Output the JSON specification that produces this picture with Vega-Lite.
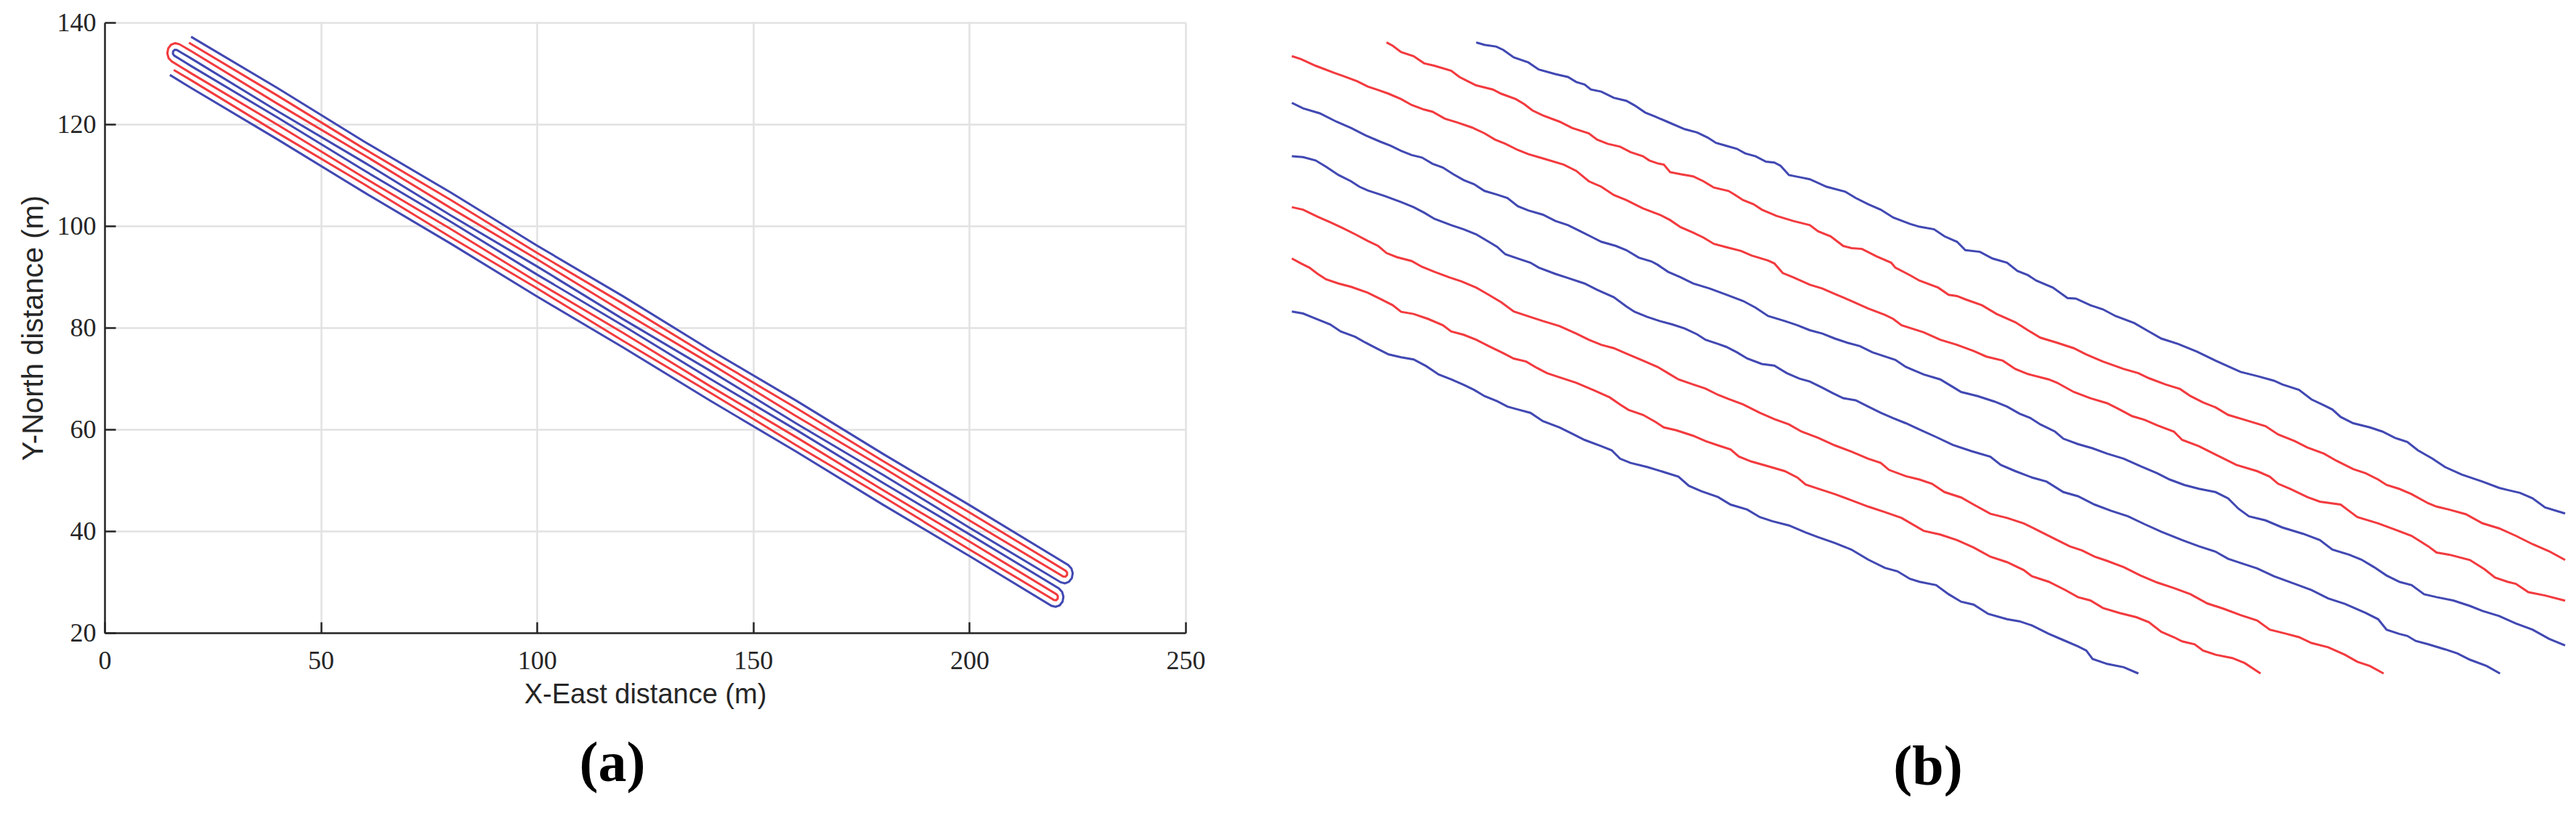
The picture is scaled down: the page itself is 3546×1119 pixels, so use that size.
{
"$schema": "https://vega.github.io/schema/vega-lite/v6.json",
"background": "white",
"padding": {"left": 26, "top": 13, "right": 20, "bottom": 0},
"spacing": 113,
"config": {"view": {"stroke": null}, "font": "Liberation Sans"},
"datasets": {
"paths": [
{"track":"L1","path":"Blue"},{"track":"L2","path":"Red"},{"track":"L3","path":"Red"},{"track":"L4","path":"Blue"},{"track":"L5","path":"Blue"},{"track":"L6","path":"Red"},{"track":"L7","path":"Red"},{"track":"L8","path":"Blue"}
],
"a": [
{"path":"Blue","o":1,"x":20,"y":137.2},{"path":"Blue","o":2,"x":40,"y":127.1},{"path":"Blue","o":3,"x":60,"y":116.6},{"path":"Blue","o":4,"x":80,"y":106.6},{"path":"Blue","o":5,"x":100,"y":96.15},{"path":"Blue","o":6,"x":120,"y":86.12},{"path":"Blue","o":7,"x":140,"y":75.65},{"path":"Blue","o":8,"x":160,"y":65.62},{"path":"Blue","o":9,"x":180,"y":55.2},{"path":"Blue","o":10,"x":200,"y":45.12},{"path":"Blue","o":11,"x":222.87,"y":33.33},{"path":"Blue","o":12,"x":223.6,"y":32.66},{"path":"Blue","o":13,"x":223.9,"y":31.73},{"path":"Blue","o":14,"x":223.7,"y":30.76},{"path":"Blue","o":15,"x":223.03,"y":30.03},{"path":"Blue","o":16,"x":222.1,"y":29.73},{"path":"Blue","o":17,"x":221.13,"y":29.94},{"path":"Blue","o":18,"x":200,"y":40.68},{"path":"Blue","o":19,"x":180,"y":51.08},{"path":"Blue","o":20,"x":160,"y":61.15},{"path":"Blue","o":21,"x":140,"y":71.55},{"path":"Blue","o":22,"x":120,"y":81.62},{"path":"Blue","o":23,"x":100,"y":92.05},{"path":"Blue","o":24,"x":80,"y":102.1},{"path":"Blue","o":25,"x":60,"y":112.52},{"path":"Blue","o":26,"x":40,"y":122.58},{"path":"Blue","o":27,"x":20,"y":132.95},{"path":"Blue","o":28,"x":16.69,"y":134.61},{"path":"Blue","o":29,"x":16.21,"y":134.65},{"path":"Blue","o":30,"x":15.84,"y":134.33},{"path":"Blue","o":31,"x":15.8,"y":133.85},{"path":"Blue","o":32,"x":16.11,"y":133.48},{"path":"Blue","o":33,"x":20,"y":131.45},{"path":"Blue","o":34,"x":40,"y":121.32},{"path":"Blue","o":35,"x":60,"y":110.92},{"path":"Blue","o":36,"x":80,"y":100.85},{"path":"Blue","o":37,"x":100,"y":90.45},{"path":"Blue","o":38,"x":120,"y":80.36},{"path":"Blue","o":39,"x":140,"y":69.96},{"path":"Blue","o":40,"x":160,"y":59.88},{"path":"Blue","o":41,"x":180,"y":49.5},{"path":"Blue","o":42,"x":200,"y":39.38},{"path":"Blue","o":43,"x":220.72,"y":28.71},{"path":"Blue","o":44,"x":221.45,"y":28.04},{"path":"Blue","o":45,"x":221.75,"y":27.11},{"path":"Blue","o":46,"x":221.55,"y":26.14},{"path":"Blue","o":47,"x":220.88,"y":25.41},{"path":"Blue","o":48,"x":219.95,"y":25.11},{"path":"Blue","o":49,"x":218.98,"y":25.32},{"path":"Blue","o":50,"x":200,"y":35.1},{"path":"Blue","o":51,"x":180,"y":45.2},{"path":"Blue","o":52,"x":160,"y":55.6},{"path":"Blue","o":53,"x":140,"y":65.68},{"path":"Blue","o":54,"x":120,"y":76.08},{"path":"Blue","o":55,"x":100,"y":86.15},{"path":"Blue","o":56,"x":80,"y":96.55},{"path":"Blue","o":57,"x":60,"y":106.62},{"path":"Blue","o":58,"x":40,"y":117.02},{"path":"Blue","o":59,"x":20,"y":127.15},{"path":"Blue","o":60,"x":15.1,"y":129.7},
{"path":"Red","o":1,"x":19.5,"y":136.03},{"path":"Red","o":2,"x":40,"y":125.62},{"path":"Red","o":3,"x":60,"y":115.2},{"path":"Red","o":4,"x":80,"y":105.14},{"path":"Red","o":5,"x":100,"y":94.72},{"path":"Red","o":6,"x":120,"y":84.66},{"path":"Red","o":7,"x":140,"y":74.25},{"path":"Red","o":8,"x":160,"y":64.18},{"path":"Red","o":9,"x":180,"y":53.78},{"path":"Red","o":10,"x":200,"y":43.68},{"path":"Red","o":11,"x":222.29,"y":32.2},{"path":"Red","o":12,"x":222.61,"y":31.83},{"path":"Red","o":13,"x":222.57,"y":31.34},{"path":"Red","o":14,"x":222.2,"y":31.03},{"path":"Red","o":15,"x":221.71,"y":31.07},{"path":"Red","o":16,"x":200,"y":42.1},{"path":"Red","o":17,"x":180,"y":52.5},{"path":"Red","o":18,"x":160,"y":62.58},{"path":"Red","o":19,"x":140,"y":72.98},{"path":"Red","o":20,"x":120,"y":83.06},{"path":"Red","o":21,"x":100,"y":93.46},{"path":"Red","o":22,"x":80,"y":103.55},{"path":"Red","o":23,"x":60,"y":113.94},{"path":"Red","o":24,"x":40,"y":124.02},{"path":"Red","o":25,"x":20,"y":134.4},{"path":"Red","o":26,"x":17.27,"y":135.74},{"path":"Red","o":27,"x":16.31,"y":135.94},{"path":"Red","o":28,"x":15.37,"y":135.64},{"path":"Red","o":29,"x":14.71,"y":134.91},{"path":"Red","o":30,"x":14.5,"y":133.94},{"path":"Red","o":31,"x":14.8,"y":133.01},{"path":"Red","o":32,"x":15.53,"y":132.35},{"path":"Red","o":33,"x":20,"y":130.02},{"path":"Red","o":34,"x":40,"y":119.9},{"path":"Red","o":35,"x":60,"y":109.5},{"path":"Red","o":36,"x":80,"y":99.42},{"path":"Red","o":37,"x":100,"y":89.0},{"path":"Red","o":38,"x":120,"y":78.94},{"path":"Red","o":39,"x":140,"y":68.52},{"path":"Red","o":40,"x":160,"y":58.45},{"path":"Red","o":41,"x":180,"y":48.06},{"path":"Red","o":42,"x":200,"y":37.96},{"path":"Red","o":43,"x":220.14,"y":27.58},{"path":"Red","o":44,"x":220.46,"y":27.21},{"path":"Red","o":45,"x":220.42,"y":26.72},{"path":"Red","o":46,"x":220.05,"y":26.41},{"path":"Red","o":47,"x":219.56,"y":26.45},{"path":"Red","o":48,"x":200,"y":36.4},{"path":"Red","o":49,"x":180,"y":46.78},{"path":"Red","o":50,"x":160,"y":56.86},{"path":"Red","o":51,"x":140,"y":67.26},{"path":"Red","o":52,"x":120,"y":77.35},{"path":"Red","o":53,"x":100,"y":87.74},{"path":"Red","o":54,"x":80,"y":97.82},{"path":"Red","o":55,"x":60,"y":108.22},{"path":"Red","o":56,"x":40,"y":118.3},{"path":"Red","o":57,"x":20,"y":128.66},{"path":"Red","o":58,"x":16.0,"y":130.67}
],
"b": [
{"track":"L1","u":32.71,"v":87.26},{"track":"L1","u":33.85,"v":86.92},{"track":"L1","u":35.46,"v":86.69},{"track":"L1","u":36.44,"v":86.23},{"track":"L1","u":37.87,"v":85.2},{"track":"L1","u":39.88,"v":84.51},{"track":"L1","u":41.32,"v":83.53},{"track":"L1","u":43.61,"v":82.9},{"track":"L1","u":45.34,"v":82.5},{"track":"L1","u":46.48,"v":81.81},{"track":"L1","u":47.63,"v":81.46},{"track":"L1","u":48.49,"v":80.78},{"track":"L1","u":49.93,"v":80.49},{"track":"L1","u":51.65,"v":79.63},{"track":"L1","u":53.37,"v":79.23},{"track":"L1","u":54.52,"v":78.59},{"track":"L1","u":55.96,"v":77.62},{"track":"L1","u":57.39,"v":77.04},{"track":"L1","u":59.11,"v":76.3},{"track":"L1","u":61.41,"v":75.32},{"track":"L1","u":63.13,"v":74.86},{"track":"L1","u":64.57,"v":74.17},{"track":"L1","u":65.72,"v":73.43},{"track":"L1","u":67.15,"v":73.03},{"track":"L1","u":68.59,"v":72.62},{"track":"L1","u":69.73,"v":71.99},{"track":"L1","u":71.17,"v":71.59},{"track":"L1","u":72.6,"v":70.84},{"track":"L1","u":73.75,"v":70.73},{"track":"L1","u":74.61,"v":70.27},{"track":"L1","u":75.76,"v":69.01},{"track":"L1","u":77.48,"v":68.66},{"track":"L1","u":78.63,"v":68.43},{"track":"L1","u":80.93,"v":67.4},{"track":"L1","u":83.51,"v":66.71},{"track":"L1","u":84.95,"v":65.85},{"track":"L1","u":86.67,"v":64.99},{"track":"L1","u":88.39,"v":64.24},{"track":"L1","u":90.12,"v":63.15},{"track":"L1","u":92.41,"v":62.29},{"track":"L1","u":93.72,"v":61.89},{"track":"L1","u":95.73,"v":61.54},{"track":"L1","u":97.17,"v":60.57},{"track":"L1","u":98.89,"v":59.82},{"track":"L1","u":100.04,"v":58.67},{"track":"L1","u":102.05,"v":58.44},{"track":"L1","u":103.77,"v":57.52},{"track":"L1","u":105.78,"v":56.95},{"track":"L1","u":107.21,"v":55.8},{"track":"L1","u":108.65,"v":55.23},{"track":"L1","u":109.8,"v":54.48},{"track":"L1","u":112.09,"v":53.51},{"track":"L1","u":114.1,"v":52.07},{"track":"L1","u":115.25,"v":52.01},{"track":"L1","u":117.26,"v":51.09},{"track":"L1","u":118.98,"v":50.52},{"track":"L1","u":120.71,"v":49.6},{"track":"L1","u":123.29,"v":48.63},{"track":"L1","u":125.3,"v":47.48},{"track":"L1","u":127.02,"v":46.5},{"track":"L1","u":129.32,"v":45.76},{"track":"L1","u":131.9,"v":44.72},{"track":"L1","u":134.48,"v":43.46},{"track":"L1","u":137.93,"v":41.91},{"track":"L1","u":140.22,"v":41.34},{"track":"L1","u":142.52,"v":40.7},{"track":"L1","u":143.67,"v":40.19},{"track":"L1","u":145.97,"v":39.44},{"track":"L1","u":147.69,"v":38.12},{"track":"L1","u":149.41,"v":37.32},{"track":"L1","u":150.56,"v":36.74},{"track":"L1","u":151.71,"v":35.71},{"track":"L1","u":153.43,"v":34.85},{"track":"L1","u":155.73,"v":34.27},{"track":"L1","u":157.45,"v":33.7},{"track":"L1","u":159.17,"v":32.84},{"track":"L1","u":160.89,"v":32.26},{"track":"L1","u":162.33,"v":31.12},{"track":"L1","u":164.34,"v":29.97},{"track":"L1","u":166.06,"v":28.82},{"track":"L1","u":168.36,"v":27.79},{"track":"L1","u":171.23,"v":26.81},{"track":"L1","u":173.52,"v":25.95},{"track":"L1","u":174.67,"v":25.66},{"track":"L1","u":176.39,"v":25.26},{"track":"L1","u":178.12,"v":24.51},{"track":"L1","u":179.84,"v":23.25},{"track":"L1","u":182.6,"v":22.43},
{"track":"L2","u":20.36,"v":87.26},{"track":"L2","u":21.22,"v":86.8},{"track":"L2","u":22.37,"v":85.94},{"track":"L2","u":24.09,"v":85.37},{"track":"L2","u":25.53,"v":84.39},{"track":"L2","u":26.96,"v":84.05},{"track":"L2","u":29.26,"v":83.36},{"track":"L2","u":30.41,"v":82.5},{"track":"L2","u":31.56,"v":81.92},{"track":"L2","u":32.71,"v":81.35},{"track":"L2","u":35.0,"v":80.78},{"track":"L2","u":36.15,"v":80.2},{"track":"L2","u":38.16,"v":79.46},{"track":"L2","u":39.31,"v":78.77},{"track":"L2","u":40.45,"v":77.9},{"track":"L2","u":41.89,"v":77.22},{"track":"L2","u":44.19,"v":76.35},{"track":"L2","u":45.91,"v":75.49},{"track":"L2","u":48.21,"v":74.75},{"track":"L2","u":49.35,"v":73.89},{"track":"L2","u":50.79,"v":73.31},{"track":"L2","u":52.51,"v":72.91},{"track":"L2","u":53.95,"v":72.16},{"track":"L2","u":55.67,"v":71.59},{"track":"L2","u":56.53,"v":71.02},{"track":"L2","u":57.68,"v":70.61},{"track":"L2","u":58.54,"v":70.44},{"track":"L2","u":59.4,"v":69.41},{"track":"L2","u":60.84,"v":69.12},{"track":"L2","u":62.56,"v":68.83},{"track":"L2","u":63.99,"v":68.15},{"track":"L2","u":65.43,"v":67.28},{"track":"L2","u":67.44,"v":66.82},{"track":"L2","u":68.3,"v":66.31},{"track":"L2","u":69.45,"v":65.56},{"track":"L2","u":70.88,"v":64.99},{"track":"L2","u":72.03,"v":64.24},{"track":"L2","u":74.04,"v":63.38},{"track":"L2","u":76.34,"v":62.69},{"track":"L2","u":78.63,"v":62.12},{"track":"L2","u":79.78,"v":61.26},{"track":"L2","u":81.5,"v":60.57},{"track":"L2","u":83.23,"v":59.25},{"track":"L2","u":84.37,"v":58.96},{"track":"L2","u":85.81,"v":58.84},{"track":"L2","u":87.82,"v":57.81},{"track":"L2","u":89.83,"v":56.95},{"track":"L2","u":90.4,"v":56.26},{"track":"L2","u":92.41,"v":55.23},{"track":"L2","u":93.72,"v":54.48},{"track":"L2","u":96.31,"v":53.51},{"track":"L2","u":97.74,"v":52.53},{"track":"L2","u":98.89,"v":52.36},{"track":"L2","u":100.04,"v":51.9},{"track":"L2","u":102.33,"v":51.09},{"track":"L2","u":104.34,"v":49.89},{"track":"L2","u":106.93,"v":48.74},{"track":"L2","u":108.65,"v":47.65},{"track":"L2","u":110.37,"v":46.62},{"track":"L2","u":112.67,"v":45.93},{"track":"L2","u":114.96,"v":45.18},{"track":"L2","u":116.69,"v":44.32},{"track":"L2","u":118.98,"v":43.34},{"track":"L2","u":121.85,"v":42.31},{"track":"L2","u":123.86,"v":41.74},{"track":"L2","u":125.3,"v":41.05},{"track":"L2","u":127.59,"v":40.19},{"track":"L2","u":129.6,"v":39.56},{"track":"L2","u":131.04,"v":38.58},{"track":"L2","u":132.76,"v":37.72},{"track":"L2","u":134.48,"v":37.03},{"track":"L2","u":136.21,"v":36.0},{"track":"L2","u":138.5,"v":35.31},{"track":"L2","u":141.37,"v":34.45},{"track":"L2","u":143.09,"v":33.3},{"track":"L2","u":145.39,"v":32.38},{"track":"L2","u":147.11,"v":31.52},{"track":"L2","u":149.41,"v":30.66},{"track":"L2","u":151.13,"v":29.68},{"track":"L2","u":153.43,"v":28.53},{"track":"L2","u":155.15,"v":27.96},{"track":"L2","u":156.87,"v":27.1},{"track":"L2","u":158.02,"v":26.35},{"track":"L2","u":159.74,"v":25.83},{"track":"L2","u":161.47,"v":25.09},{"track":"L2","u":163.76,"v":23.83},{"track":"L2","u":164.91,"v":23.37},{"track":"L2","u":166.63,"v":22.96},{"track":"L2","u":168.93,"v":22.33},{"track":"L2","u":171.23,"v":21.07},{"track":"L2","u":173.52,"v":20.38},{"track":"L2","u":175.82,"v":19.35},{"track":"L2","u":178.12,"v":18.2},{"track":"L2","u":180.41,"v":17.22},{"track":"L2","u":182.6,"v":16.03},
{"track":"L3","u":7.33,"v":85.37},{"track":"L3","u":8.59,"v":84.97},{"track":"L3","u":10.6,"v":84.05},{"track":"L3","u":13.19,"v":83.07},{"track":"L3","u":14.33,"v":82.67},{"track":"L3","u":16.34,"v":81.92},{"track":"L3","u":17.78,"v":81.18},{"track":"L3","u":19.21,"v":80.72},{"track":"L3","u":20.65,"v":80.2},{"track":"L3","u":22.37,"v":79.46},{"track":"L3","u":23.81,"v":78.65},{"track":"L3","u":25.53,"v":78.02},{"track":"L3","u":26.68,"v":77.73},{"track":"L3","u":28.4,"v":76.76},{"track":"L3","u":30.12,"v":76.24},{"track":"L3","u":32.13,"v":75.55},{"track":"L3","u":33.85,"v":74.75},{"track":"L3","u":35.29,"v":73.89},{"track":"L3","u":36.72,"v":73.31},{"track":"L3","u":38.45,"v":72.45},{"track":"L3","u":39.88,"v":71.88},{"track":"L3","u":41.89,"v":71.3},{"track":"L3","u":44.76,"v":70.44},{"track":"L3","u":46.48,"v":69.58},{"track":"L3","u":48.21,"v":68.15},{"track":"L3","u":49.93,"v":67.4},{"track":"L3","u":51.65,"v":66.25},{"track":"L3","u":53.37,"v":65.56},{"track":"L3","u":55.67,"v":64.41},{"track":"L3","u":57.97,"v":63.55},{"track":"L3","u":59.4,"v":62.81},{"track":"L3","u":60.84,"v":61.83},{"track":"L3","u":62.56,"v":61.08},{"track":"L3","u":63.99,"v":60.4},{"track":"L3","u":65.43,"v":59.53},{"track":"L3","u":67.15,"v":59.07},{"track":"L3","u":69.16,"v":58.56},{"track":"L3","u":70.6,"v":57.93},{"track":"L3","u":72.89,"v":57.24},{"track":"L3","u":73.75,"v":56.84},{"track":"L3","u":74.9,"v":55.52},{"track":"L3","u":76.34,"v":54.94},{"track":"L3","u":78.63,"v":53.91},{"track":"L3","u":80.36,"v":53.39},{"track":"L3","u":82.08,"v":52.64},{"track":"L3","u":84.37,"v":51.67},{"track":"L3","u":86.67,"v":50.63},{"track":"L3","u":88.97,"v":49.77},{"track":"L3","u":90.12,"v":49.2},{"track":"L3","u":91.26,"v":48.34},{"track":"L3","u":94.3,"v":47.36},{"track":"L3","u":96.59,"v":46.33},{"track":"L3","u":98.89,"v":45.64},{"track":"L3","u":101.19,"v":44.78},{"track":"L3","u":102.91,"v":44.03},{"track":"L3","u":105.2,"v":43.46},{"track":"L3","u":106.93,"v":42.31},{"track":"L3","u":108.65,"v":41.62},{"track":"L3","u":111.52,"v":40.88},{"track":"L3","u":112.67,"v":40.42},{"track":"L3","u":114.96,"v":39.15},{"track":"L3","u":117.26,"v":38.29},{"track":"L3","u":119.56,"v":37.6},{"track":"L3","u":121.28,"v":36.74},{"track":"L3","u":123.0,"v":35.82},{"track":"L3","u":124.72,"v":35.31},{"track":"L3","u":126.45,"v":34.56},{"track":"L3","u":128.74,"v":33.7},{"track":"L3","u":129.89,"v":32.55},{"track":"L3","u":132.19,"v":31.69},{"track":"L3","u":134.48,"v":30.54},{"track":"L3","u":137.35,"v":29.11},{"track":"L3","u":140.22,"v":28.25},{"track":"L3","u":141.95,"v":27.5},{"track":"L3","u":143.09,"v":26.52},{"track":"L3","u":144.82,"v":25.78},{"track":"L3","u":147.11,"v":24.69},{"track":"L3","u":148.84,"v":24.05},{"track":"L3","u":151.71,"v":23.65},{"track":"L3","u":152.85,"v":22.79},{"track":"L3","u":154.0,"v":21.93},{"track":"L3","u":156.87,"v":21.07},{"track":"L3","u":159.17,"v":20.21},{"track":"L3","u":161.47,"v":19.35},{"track":"L3","u":163.76,"v":17.91},{"track":"L3","u":164.91,"v":17.05},{"track":"L3","u":166.63,"v":16.76},{"track":"L3","u":169.5,"v":16.02},{"track":"L3","u":171.51,"v":14.75},{"track":"L3","u":172.95,"v":13.6},{"track":"L3","u":174.67,"v":13.03},{"track":"L3","u":175.82,"v":12.74},{"track":"L3","u":177.54,"v":11.6},{"track":"L3","u":179.84,"v":11.14},{"track":"L3","u":182.6,"v":10.43},
{"track":"L4","u":7.33,"v":78.94},{"track":"L4","u":8.88,"v":78.19},{"track":"L4","u":11.18,"v":77.5},{"track":"L4","u":13.47,"v":76.35},{"track":"L4","u":15.48,"v":75.49},{"track":"L4","u":17.49,"v":74.46},{"track":"L4","u":19.5,"v":73.6},{"track":"L4","u":20.94,"v":73.03},{"track":"L4","u":22.37,"v":72.34},{"track":"L4","u":23.81,"v":71.76},{"track":"L4","u":25.24,"v":71.42},{"track":"L4","u":26.68,"v":70.56},{"track":"L4","u":28.11,"v":70.04},{"track":"L4","u":29.55,"v":69.12},{"track":"L4","u":30.98,"v":68.32},{"track":"L4","u":32.42,"v":67.74},{"track":"L4","u":33.85,"v":66.82},{"track":"L4","u":35.58,"v":66.31},{"track":"L4","u":37.01,"v":65.85},{"track":"L4","u":38.45,"v":64.7},{"track":"L4","u":39.88,"v":64.13},{"track":"L4","u":41.89,"v":63.55},{"track":"L4","u":43.61,"v":62.69},{"track":"L4","u":45.34,"v":62.12},{"track":"L4","u":47.06,"v":61.26},{"track":"L4","u":48.78,"v":60.4},{"track":"L4","u":49.93,"v":59.82},{"track":"L4","u":51.94,"v":59.25},{"track":"L4","u":53.37,"v":58.67},{"track":"L4","u":55.09,"v":57.64},{"track":"L4","u":56.82,"v":57.12},{"track":"L4","u":57.68,"v":56.66},{"track":"L4","u":59.11,"v":55.69},{"track":"L4","u":60.84,"v":54.94},{"track":"L4","u":62.56,"v":54.08},{"track":"L4","u":64.85,"v":53.39},{"track":"L4","u":67.15,"v":52.53},{"track":"L4","u":69.45,"v":51.67},{"track":"L4","u":71.17,"v":50.75},{"track":"L4","u":72.89,"v":49.6},{"track":"L4","u":75.19,"v":48.91},{"track":"L4","u":76.91,"v":48.34},{"track":"L4","u":78.63,"v":47.65},{"track":"L4","u":80.36,"v":47.19},{"track":"L4","u":82.08,"v":46.5},{"track":"L4","u":83.8,"v":45.93},{"track":"L4","u":85.52,"v":45.47},{"track":"L4","u":87.24,"v":44.61},{"track":"L4","u":88.97,"v":44.03},{"track":"L4","u":90.4,"v":43.57},{"track":"L4","u":91.84,"v":42.6},{"track":"L4","u":94.3,"v":41.56},{"track":"L4","u":96.59,"v":40.88},{"track":"L4","u":98.32,"v":39.84},{"track":"L4","u":99.46,"v":39.15},{"track":"L4","u":101.76,"v":38.58},{"track":"L4","u":104.06,"v":37.83},{"track":"L4","u":105.78,"v":37.14},{"track":"L4","u":107.5,"v":36.17},{"track":"L4","u":108.94,"v":35.59},{"track":"L4","u":110.37,"v":34.68},{"track":"L4","u":112.38,"v":33.7},{"track":"L4","u":113.53,"v":32.72},{"track":"L4","u":115.54,"v":31.98},{"track":"L4","u":117.55,"v":31.4},{"track":"L4","u":119.56,"v":30.66},{"track":"L4","u":121.85,"v":29.97},{"track":"L4","u":124.15,"v":28.93},{"track":"L4","u":126.45,"v":27.96},{"track":"L4","u":128.17,"v":27.1},{"track":"L4","u":130.18,"v":26.35},{"track":"L4","u":132.19,"v":25.83},{"track":"L4","u":134.48,"v":25.37},{"track":"L4","u":136.21,"v":24.51},{"track":"L4","u":137.64,"v":23.08},{"track":"L4","u":139.08,"v":22.04},{"track":"L4","u":141.37,"v":21.47},{"track":"L4","u":143.67,"v":20.5},{"track":"L4","u":146.54,"v":19.63},{"track":"L4","u":148.84,"v":18.77},{"track":"L4","u":150.56,"v":17.45},{"track":"L4","u":152.85,"v":16.76},{"track":"L4","u":154.57,"v":16.07},{"track":"L4","u":156.3,"v":15.04},{"track":"L4","u":158.02,"v":13.89},{"track":"L4","u":159.74,"v":13.03},{"track":"L4","u":161.47,"v":12.57},{"track":"L4","u":163.19,"v":11.31},{"track":"L4","u":164.91,"v":10.91},{"track":"L4","u":167.21,"v":10.45},{"track":"L4","u":169.5,"v":9.7},{"track":"L4","u":171.23,"v":9.01},{"track":"L4","u":173.52,"v":8.32},{"track":"L4","u":175.82,"v":7.29},{"track":"L4","u":178.12,"v":6.43},{"track":"L4","u":180.41,"v":5.17},{"track":"L4","u":182.6,"v":4.27},
{"track":"L5","u":7.33,"v":71.59},{"track":"L5","u":8.88,"v":71.48},{"track":"L5","u":10.6,"v":71.02},{"track":"L5","u":12.04,"v":70.15},{"track":"L5","u":13.76,"v":69.01},{"track":"L5","u":15.48,"v":68.15},{"track":"L5","u":16.63,"v":67.4},{"track":"L5","u":17.78,"v":66.88},{"track":"L5","u":20.07,"v":66.14},{"track":"L5","u":22.37,"v":65.28},{"track":"L5","u":24.09,"v":64.59},{"track":"L5","u":25.53,"v":63.84},{"track":"L5","u":26.96,"v":62.98},{"track":"L5","u":29.26,"v":62.12},{"track":"L5","u":30.98,"v":61.54},{"track":"L5","u":32.71,"v":60.85},{"track":"L5","u":34.43,"v":59.82},{"track":"L5","u":35.58,"v":59.13},{"track":"L5","u":36.72,"v":58.1},{"track":"L5","u":38.45,"v":57.52},{"track":"L5","u":40.17,"v":56.95},{"track":"L5","u":41.32,"v":56.26},{"track":"L5","u":43.61,"v":55.4},{"track":"L5","u":45.34,"v":54.83},{"track":"L5","u":47.63,"v":54.08},{"track":"L5","u":49.35,"v":53.22},{"track":"L5","u":51.65,"v":52.19},{"track":"L5","u":53.37,"v":50.92},{"track":"L5","u":54.52,"v":50.18},{"track":"L5","u":56.24,"v":49.49},{"track":"L5","u":57.97,"v":48.91},{"track":"L5","u":59.69,"v":48.45},{"track":"L5","u":61.41,"v":47.88},{"track":"L5","u":63.13,"v":47.08},{"track":"L5","u":64.28,"v":46.33},{"track":"L5","u":66.0,"v":45.76},{"track":"L5","u":67.15,"v":45.35},{"track":"L5","u":68.59,"v":44.61},{"track":"L5","u":70.02,"v":43.75},{"track":"L5","u":72.03,"v":43.0},{"track":"L5","u":73.75,"v":42.77},{"track":"L5","u":75.47,"v":41.74},{"track":"L5","u":77.2,"v":40.99},{"track":"L5","u":78.63,"v":40.59},{"track":"L5","u":80.36,"v":39.73},{"track":"L5","u":81.79,"v":38.98},{"track":"L5","u":83.23,"v":38.29},{"track":"L5","u":84.95,"v":38.0},{"track":"L5","u":86.67,"v":37.14},{"track":"L5","u":88.39,"v":36.28},{"track":"L5","u":90.12,"v":35.54},{"track":"L5","u":91.84,"v":34.85},{"track":"L5","u":93.72,"v":33.99},{"track":"L5","u":96.02,"v":32.95},{"track":"L5","u":98.32,"v":31.86},{"track":"L5","u":100.9,"v":31.0},{"track":"L5","u":103.48,"v":30.25},{"track":"L5","u":104.92,"v":29.11},{"track":"L5","u":106.93,"v":28.25},{"track":"L5","u":109.22,"v":27.38},{"track":"L5","u":111.23,"v":26.81},{"track":"L5","u":113.53,"v":25.37},{"track":"L5","u":115.54,"v":24.8},{"track":"L5","u":117.83,"v":23.65},{"track":"L5","u":120.13,"v":22.79},{"track":"L5","u":122.43,"v":22.04},{"track":"L5","u":124.72,"v":20.95},{"track":"L5","u":127.02,"v":19.92},{"track":"L5","u":129.89,"v":18.77},{"track":"L5","u":132.19,"v":17.91},{"track":"L5","u":134.48,"v":17.17},{"track":"L5","u":136.21,"v":16.19},{"track":"L5","u":137.93,"v":15.61},{"track":"L5","u":140.22,"v":14.87},{"track":"L5","u":142.52,"v":13.78},{"track":"L5","u":145.39,"v":12.74},{"track":"L5","u":147.69,"v":11.88},{"track":"L5","u":149.98,"v":10.74},{"track":"L5","u":152.28,"v":9.99},{"track":"L5","u":155.15,"v":8.73},{"track":"L5","u":156.87,"v":7.87},{"track":"L5","u":158.02,"v":6.43},{"track":"L5","u":159.74,"v":5.86},{"track":"L5","u":160.89,"v":5.57},{"track":"L5","u":162.04,"v":4.88},{"track":"L5","u":163.76,"v":4.42},{"track":"L5","u":166.06,"v":3.73},{"track":"L5","u":167.78,"v":3.16},{"track":"L5","u":169.5,"v":2.3},{"track":"L5","u":171.8,"v":1.44},{"track":"L5","u":173.64,"v":0.4},
{"track":"L6","u":7.33,"v":64.59},{"track":"L6","u":8.88,"v":64.24},{"track":"L6","u":10.89,"v":63.27},{"track":"L6","u":12.61,"v":62.52},{"track":"L6","u":14.33,"v":61.72},{"track":"L6","u":16.06,"v":60.85},{"track":"L6","u":17.78,"v":59.94},{"track":"L6","u":19.21,"v":59.25},{"track":"L6","u":20.36,"v":58.27},{"track":"L6","u":21.8,"v":57.7},{"track":"L6","u":23.81,"v":57.18},{"track":"L6","u":25.24,"v":56.38},{"track":"L6","u":26.96,"v":55.69},{"track":"L6","u":28.97,"v":54.94},{"track":"L6","u":30.7,"v":54.37},{"track":"L6","u":32.71,"v":53.51},{"track":"L6","u":34.43,"v":52.53},{"track":"L6","u":36.15,"v":51.5},{"track":"L6","u":37.87,"v":50.23},{"track":"L6","u":39.59,"v":49.66},{"track":"L6","u":41.89,"v":48.91},{"track":"L6","u":44.19,"v":48.22},{"track":"L6","u":46.48,"v":47.19},{"track":"L6","u":48.21,"v":46.33},{"track":"L6","u":49.93,"v":45.64},{"track":"L6","u":51.65,"v":45.18},{"track":"L6","u":53.37,"v":44.43},{"track":"L6","u":55.67,"v":43.46},{"track":"L6","u":57.68,"v":42.6},{"track":"L6","u":59.11,"v":41.74},{"track":"L6","u":60.55,"v":40.88},{"track":"L6","u":62.56,"v":40.19},{"track":"L6","u":64.28,"v":39.61},{"track":"L6","u":66.0,"v":38.75},{"track":"L6","u":67.44,"v":38.18},{"track":"L6","u":69.45,"v":37.43},{"track":"L6","u":71.74,"v":36.28},{"track":"L6","u":73.75,"v":35.42},{"track":"L6","u":75.76,"v":34.68},{"track":"L6","u":77.48,"v":33.7},{"track":"L6","u":79.78,"v":32.84},{"track":"L6","u":82.08,"v":31.8},{"track":"L6","u":84.37,"v":30.94},{"track":"L6","u":86.67,"v":29.97},{"track":"L6","u":88.39,"v":29.39},{"track":"L6","u":89.54,"v":28.42},{"track":"L6","u":91.84,"v":27.56},{"track":"L6","u":93.72,"v":27.1},{"track":"L6","u":95.44,"v":26.52},{"track":"L6","u":97.17,"v":25.37},{"track":"L6","u":99.46,"v":24.63},{"track":"L6","u":101.19,"v":23.65},{"track":"L6","u":103.48,"v":22.39},{"track":"L6","u":105.78,"v":21.81},{"track":"L6","u":108.07,"v":21.07},{"track":"L6","u":109.8,"v":20.21},{"track":"L6","u":112.09,"v":19.06},{"track":"L6","u":114.39,"v":17.91},{"track":"L6","u":116.11,"v":17.34},{"track":"L6","u":117.83,"v":16.48},{"track":"L6","u":119.56,"v":15.9},{"track":"L6","u":121.85,"v":15.04},{"track":"L6","u":124.15,"v":13.89},{"track":"L6","u":126.45,"v":12.92},{"track":"L6","u":128.74,"v":12.17},{"track":"L6","u":131.04,"v":11.31},{"track":"L6","u":133.34,"v":10.05},{"track":"L6","u":135.63,"v":9.3},{"track":"L6","u":137.93,"v":8.44},{"track":"L6","u":140.22,"v":7.69},{"track":"L6","u":141.95,"v":6.43},{"track":"L6","u":144.24,"v":5.86},{"track":"L6","u":145.97,"v":5.4},{"track":"L6","u":147.69,"v":4.6},{"track":"L6","u":149.98,"v":4.02},{"track":"L6","u":152.28,"v":2.99},{"track":"L6","u":154.0,"v":2.01},{"track":"L6","u":155.73,"v":1.44},{"track":"L6","u":157.62,"v":0.4},
{"track":"L7","u":7.33,"v":57.52},{"track":"L7","u":8.59,"v":56.84},{"track":"L7","u":9.74,"v":56.26},{"track":"L7","u":10.89,"v":55.4},{"track":"L7","u":12.04,"v":54.65},{"track":"L7","u":13.76,"v":54.08},{"track":"L7","u":15.48,"v":53.62},{"track":"L7","u":17.78,"v":52.82},{"track":"L7","u":19.5,"v":51.96},{"track":"L7","u":21.22,"v":51.09},{"track":"L7","u":22.37,"v":50.18},{"track":"L7","u":24.09,"v":49.89},{"track":"L7","u":26.1,"v":49.2},{"track":"L7","u":28.11,"v":48.34},{"track":"L7","u":29.26,"v":47.48},{"track":"L7","u":30.98,"v":47.02},{"track":"L7","u":32.71,"v":46.33},{"track":"L7","u":34.43,"v":45.47},{"track":"L7","u":36.44,"v":44.49},{"track":"L7","u":37.87,"v":43.75},{"track":"L7","u":39.59,"v":43.34},{"track":"L7","u":41.03,"v":42.48},{"track":"L7","u":42.46,"v":41.74},{"track":"L7","u":44.19,"v":41.16},{"track":"L7","u":46.48,"v":40.42},{"track":"L7","u":48.78,"v":39.44},{"track":"L7","u":51.08,"v":38.41},{"track":"L7","u":52.51,"v":37.43},{"track":"L7","u":53.66,"v":36.69},{"track":"L7","u":55.67,"v":36.0},{"track":"L7","u":57.39,"v":35.02},{"track":"L7","u":58.54,"v":34.27},{"track":"L7","u":60.26,"v":33.87},{"track":"L7","u":62.56,"v":33.13},{"track":"L7","u":64.28,"v":32.38},{"track":"L7","u":66.0,"v":31.8},{"track":"L7","u":67.72,"v":31.23},{"track":"L7","u":68.87,"v":30.25},{"track":"L7","u":70.6,"v":29.57},{"track":"L7","u":72.89,"v":28.93},{"track":"L7","u":75.19,"v":28.25},{"track":"L7","u":76.91,"v":27.38},{"track":"L7","u":78.06,"v":26.41},{"track":"L7","u":79.78,"v":25.83},{"track":"L7","u":82.08,"v":25.09},{"track":"L7","u":84.37,"v":24.23},{"track":"L7","u":86.67,"v":23.37},{"track":"L7","u":88.97,"v":22.62},{"track":"L7","u":91.26,"v":21.81},{"track":"L7","u":94.3,"v":20.04},{"track":"L7","u":96.59,"v":19.52},{"track":"L7","u":98.89,"v":18.77},{"track":"L7","u":101.19,"v":17.74},{"track":"L7","u":103.48,"v":16.48},{"track":"L7","u":105.78,"v":15.73},{"track":"L7","u":108.07,"v":14.64},{"track":"L7","u":109.22,"v":13.78},{"track":"L7","u":111.52,"v":13.03},{"track":"L7","u":113.82,"v":11.88},{"track":"L7","u":115.54,"v":10.91},{"track":"L7","u":117.26,"v":10.45},{"track":"L7","u":118.98,"v":9.41},{"track":"L7","u":121.28,"v":8.73},{"track":"L7","u":123.58,"v":8.15},{"track":"L7","u":125.3,"v":7.46},{"track":"L7","u":127.02,"v":6.14},{"track":"L7","u":128.74,"v":5.4},{"track":"L7","u":129.89,"v":4.82},{"track":"L7","u":131.61,"v":4.42},{"track":"L7","u":132.76,"v":3.56},{"track":"L7","u":134.48,"v":2.99},{"track":"L7","u":136.78,"v":2.53},{"track":"L7","u":138.5,"v":1.83},{"track":"L7","u":140.68,"v":0.4},
{"track":"L8","u":7.33,"v":50.23},{"track":"L8","u":8.88,"v":49.95},{"track":"L8","u":10.32,"v":49.37},{"track":"L8","u":12.61,"v":48.45},{"track":"L8","u":14.05,"v":47.48},{"track":"L8","u":16.06,"v":46.73},{"track":"L8","u":17.49,"v":45.93},{"track":"L8","u":18.93,"v":45.18},{"track":"L8","u":20.65,"v":44.32},{"track":"L8","u":22.37,"v":43.92},{"track":"L8","u":24.09,"v":43.63},{"track":"L8","u":25.82,"v":42.71},{"track":"L8","u":27.54,"v":41.56},{"track":"L8","u":29.26,"v":40.88},{"track":"L8","u":30.98,"v":40.13},{"track":"L8","u":32.42,"v":39.44},{"track":"L8","u":33.85,"v":38.58},{"track":"L8","u":35.58,"v":37.89},{"track":"L8","u":37.01,"v":37.14},{"track":"L8","u":38.45,"v":36.74},{"track":"L8","u":40.17,"v":36.28},{"track":"L8","u":41.89,"v":35.13},{"track":"L8","u":44.19,"v":34.27},{"track":"L8","u":45.91,"v":33.41},{"track":"L8","u":47.63,"v":32.55},{"track":"L8","u":49.93,"v":31.69},{"track":"L8","u":51.36,"v":31.12},{"track":"L8","u":52.51,"v":29.97},{"track":"L8","u":53.95,"v":29.39},{"track":"L8","u":56.24,"v":28.82},{"track":"L8","u":58.54,"v":28.13},{"track":"L8","u":60.55,"v":27.5},{"track":"L8","u":61.98,"v":26.24},{"track":"L8","u":63.71,"v":25.49},{"track":"L8","u":66.0,"v":24.69},{"track":"L8","u":67.72,"v":23.65},{"track":"L8","u":70.02,"v":22.96},{"track":"L8","u":71.74,"v":21.93},{"track":"L8","u":73.47,"v":21.36},{"track":"L8","u":75.76,"v":20.78},{"track":"L8","u":78.06,"v":19.81},{"track":"L8","u":79.78,"v":19.17},{"track":"L8","u":82.08,"v":18.37},{"track":"L8","u":84.37,"v":17.45},{"track":"L8","u":86.67,"v":16.07},{"track":"L8","u":88.97,"v":14.93},{"track":"L8","u":90.69,"v":14.47},{"track":"L8","u":92.41,"v":13.43},{"track":"L8","u":93.72,"v":13.03},{"track":"L8","u":96.02,"v":12.57},{"track":"L8","u":97.74,"v":11.31},{"track":"L8","u":99.46,"v":10.28},{"track":"L8","u":101.19,"v":9.88},{"track":"L8","u":103.19,"v":8.61},{"track":"L8","u":105.78,"v":7.87},{"track":"L8","u":107.5,"v":7.58},{"track":"L8","u":109.22,"v":7.01},{"track":"L8","u":111.52,"v":5.86},{"track":"L8","u":113.53,"v":5.0},{"track":"L8","u":115.54,"v":4.13},{"track":"L8","u":116.69,"v":3.56},{"track":"L8","u":117.55,"v":2.41},{"track":"L8","u":119.56,"v":1.72},{"track":"L8","u":121.85,"v":1.26},{"track":"L8","u":123.86,"v":0.4}
]
},
"hconcat": [
{
"width": 1488,
"height": 840,
"title": {"text": "(a)", "orient": "bottom", "font": "Liberation Serif", "fontSize": 78, "fontWeight": "bold", "color": "#000000", "offset": 38, "dx": -45},
"data": {"name": "a"},
"mark": {"type": "line", "strokeWidth": 3},
"encoding": {
"x": {"field": "x", "type": "quantitative", "scale": {"domain": [0, 250], "nice": false, "zero": false},
"axis": {"title": "X-East distance (m)", "values": [0, 50, 100, 150, 200, 250], "grid": true, "gridColor": "#e2e2e2", "gridWidth": 2.5, "domainColor": "#262626", "domainWidth": 2.5, "tickColor": "#262626", "tickWidth": 2.5, "tickSize": -15, "labelFont": "Liberation Serif", "labelFontSize": 36, "labelColor": "#262626", "labelPadding": 36, "labelFlush": false, "titleFont": "Liberation Sans", "titleFontSize": 38, "titleFontWeight": "normal", "titleColor": "#262626", "titlePadding": 10}},
"y": {"field": "y", "type": "quantitative", "scale": {"domain": [20, 140], "nice": false, "zero": false},
"axis": {"title": "Y-North distance (m)", "values": [20, 40, 60, 80, 100, 120, 140], "grid": true, "gridColor": "#e2e2e2", "gridWidth": 2.5, "domainColor": "#262626", "domainWidth": 2.5, "tickColor": "#262626", "tickWidth": 2.5, "tickSize": -15, "labelFont": "Liberation Serif", "labelFontSize": 36, "labelColor": "#262626", "labelPadding": 27, "labelFlush": false, "titleFont": "Liberation Sans", "titleFontSize": 40, "titleFontWeight": "normal", "titleColor": "#262626", "titlePadding": 12}},
"color": {"field": "path", "type": "nominal", "scale": {"domain": ["Blue", "Red"], "range": ["#4148b2", "#f23a3e"]}, "legend": null},
"order": {"field": "o", "type": "quantitative"}
}
},
{
"width": 1754,
"height": 900,
"title": {"text": "(b)", "orient": "bottom", "font": "Liberation Serif", "fontSize": 78, "fontWeight": "bold", "color": "#000000", "offset": 85},
"data": {"name": "b"},
"transform": [
{"lookup": "track", "from": {"data": {"name": "paths"}, "key": "track", "fields": ["path"]}}
],
"mark": {"type": "line", "strokeWidth": 3},
"encoding": {
"x": {"field": "u", "type": "quantitative", "scale": {"domain": [7.2, 182.6], "nice": false, "zero": false}, "axis": null},
"y": {"field": "v", "type": "quantitative", "scale": {"domain": [0, 90], "nice": false, "zero": false}, "axis": null},
"color": {"field": "path", "type": "nominal", "scale": {"domain": ["Blue", "Red"], "range": ["#4148b2", "#f23a3e"]}, "legend": null},
"detail": {"field": "track", "type": "nominal"}
}
}
]
}
